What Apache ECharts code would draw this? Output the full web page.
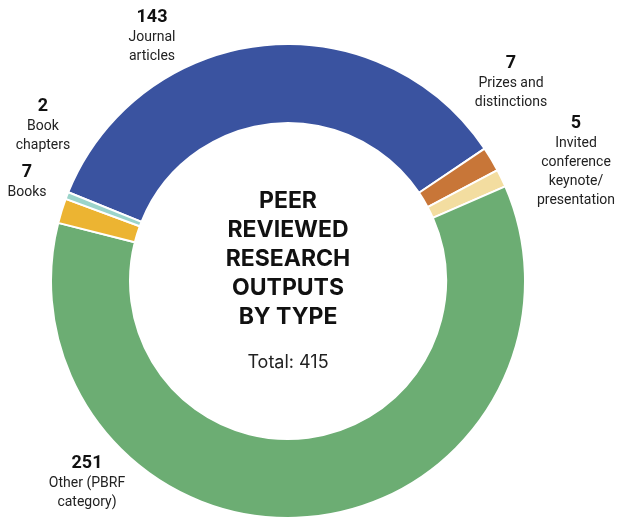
<!DOCTYPE html>
<html>
<head>
<meta charset="utf-8">
<script src="https://cdn.jsdelivr.net/npm/echarts@6/dist/echarts.min.js"></script>
<style>
html,body{margin:0;padding:0;background:#fff;}
#chart{width:617px;height:519px;}
</style>
</head>
<body>
<div id="chart"></div>
<script>
// ---- data ----
const categories = ['Journal articles', 'Prizes and distinctions', 'Invited conference keynote/presentation', 'Other (PBRF category)', 'Books', 'Book chapters'];
const values = [143, 7, 5, 251, 7, 2];
const totalLabel = 'Total: 415';
const centerTitle = ['PEER', 'REVIEWED', 'RESEARCH', 'OUTPUTS', 'BY TYPE'];

// ---- styling ----
const colors = ['#3a53a0', '#c87638', '#f3dda0', '#6cad73', '#ecb432', '#9bd4ca'];
const labelWrap = [['Journal', 'articles'], ['Prizes and', 'distinctions'], ['Invited', 'conference', 'keynote/', 'presentation'], ['Other (PBRF', 'category)'], ['Books'], ['Book', 'chapters']];
const labelAnchors = [[152, 6.5], [511, 52.5], [576, 112.5], [87, 452.5], [27, 161.5], [43, 95.5]];
const cx = 288, cy = 281;

const chart = echarts.init(document.getElementById('chart'), null, {renderer: 'canvas'});
chart.setOption({
  animation: false,
  backgroundColor: '#ffffff',
  series: [{
    type: 'pie',
    center: [cx, cy],
    radius: [158, 237],
    startAngle: 158,
    clockwise: true,
    avoidLabelOverlap: false,
    emphasis: {disabled: true},
    itemStyle: {borderColor: '#ffffff', borderWidth: 2},
    data: categories.map((c, i) => ({name: c, value: values[i], itemStyle: {color: colors[i]}})),
    label: {
      show: true,
      position: 'outside',
      formatter: p => '{v|' + p.value + '}\n' + labelWrap[p.dataIndex].map(t => '{n|' + t + '}').join('\n'),
      rich: {
        v: {fontFamily: 'Roboto', fontWeight: 'bold', fontSize: 18, lineHeight: 21, color: '#111', align: 'center'},
        n: {fontFamily: 'Roboto', fontSize: 14, lineHeight: 19, color: '#222', align: 'center'}
      }
    },
    labelLine: {show: false},
    labelLayout: p => ({x: labelAnchors[p.dataIndex][0], y: labelAnchors[p.dataIndex][1], align: 'center', verticalAlign: 'top'})
  }],
  graphic: [
    {type: 'text', x: cx, y: 187, silent: true,
     style: {text: centerTitle.join('\n'), textAlign: 'center', textVerticalAlign: 'top', fontFamily: 'Inter', fontWeight: 'bold', fontSize: 23, lineHeight: 29, fill: '#111'}},
    {type: 'text', x: cx, y: 352, silent: true,
     style: {text: totalLabel, textAlign: 'center', textVerticalAlign: 'top', fontFamily: 'Inter', fontSize: 18, lineHeight: 22, fill: '#222'}}
  ]
});
</script>
</body>
</html>
